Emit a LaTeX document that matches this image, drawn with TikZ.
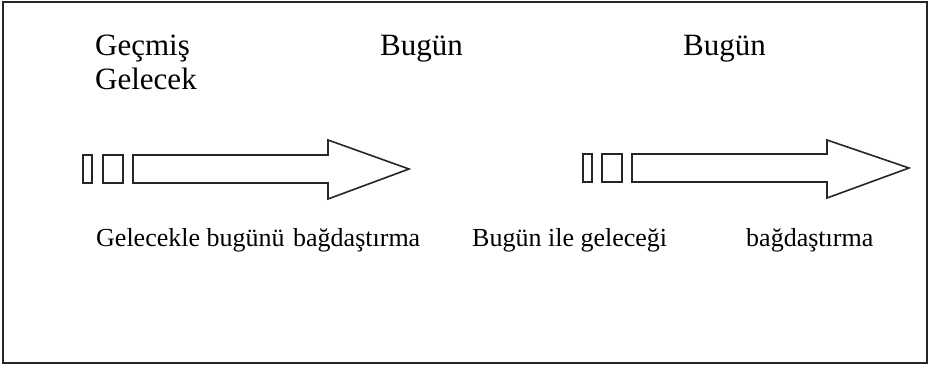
\documentclass[tikz,border=0pt]{standalone}
\usepackage{fontspec}
\setmainfont{Liberation Serif}
\begin{document}
\begin{tikzpicture}[x=1pt,y=-1pt,
  lbl/.style={anchor=base west,inner sep=0pt,font=\fontsize{31}{34}\selectfont},
  lbls/.style={anchor=base west,inner sep=0pt,font=\fontsize{26}{32}\selectfont},
  shp/.style={draw=black!85,line width=1.6pt,fill=white}]
\useasboundingbox (0,0) rectangle (931,368);
\draw[line width=2.2pt,black!85] (3,2) rectangle (927,363);
% top labels
\node[lbl] (gec) at (95,55) {Geçmiş};
\node[lbl] (gel) at (95,89) {Gelecek};
\node[lbl] (bug1) at (380,55) {Bugün};
\node[lbl] (bug2) at (683,55) {Bugün};
% arrow 1
\draw[shp] (83,155) rectangle (92,183);
\draw[shp] (103,155) rectangle (123,183);
\draw[shp] (133,155) -- (328,155) -- (328,140) -- (409,169) -- (328,199) -- (328,183) -- (133,183) -- cycle;
% arrow 2
\draw[shp] (583,154) rectangle (592,182);
\draw[shp] (602,154) rectangle (622,182);
\draw[shp] (632,154) -- (827,154) -- (827,140) -- (909,168) -- (827,198) -- (827,182) -- (632,182) -- cycle;
% bottom labels
\node[lbls] (b1) at (96,246) {Gelecekle bugünü};
\node[lbls] (b2) at (293,246) {bağdaştırma};
\node[lbls] (b3) at (472,246) {Bugün ile geleceği};
\node[lbls] (b4) at (746,246) {bağdaştırma};
\end{tikzpicture}
\end{document}
